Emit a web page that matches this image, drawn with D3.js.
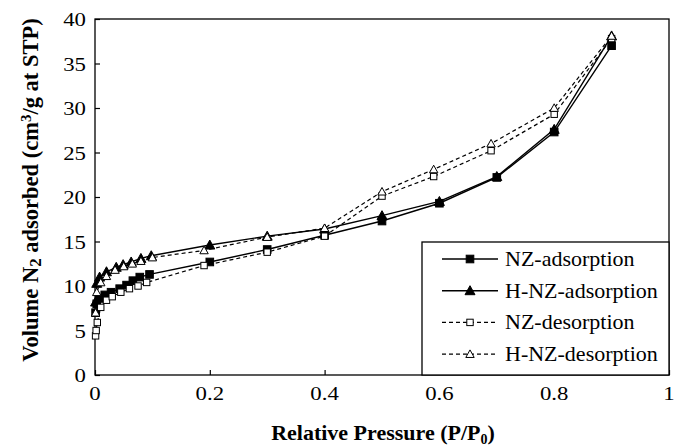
<!DOCTYPE html>
<html>
<head>
<meta charset="utf-8">
<script src="https://cdn.jsdelivr.net/npm/d3@7"></script>
<style>
  body { margin: 0; background: #fff; }
  text { font-family: "Liberation Serif", "Times New Roman", serif; fill: #000; }
</style>
</head>
<body>
<svg id="chart" width="677" height="447"></svg>
<script>
// Isotherm data (relative pressure, volume)
var nzAdsP = [0.001, 0.003, 0.008, 0.017, 0.028, 0.043, 0.055, 0.066, 0.078, 0.095, 0.2, 0.3, 0.4, 0.5, 0.6, 0.7, 0.8, 0.9];
var nzAdsV = [7.0, 8.0, 8.6, 9.0, 9.3, 9.7, 10.1, 10.6, 11.0, 11.3, 12.7, 14.1, 15.7, 17.3, 19.3, 22.2, 27.3, 37.0];

var hnzAdsP = [0.001, 0.003, 0.008, 0.02, 0.037, 0.049, 0.063, 0.08, 0.098, 0.2, 0.3, 0.4, 0.5, 0.6, 0.7, 0.8, 0.9];
var hnzAdsV = [8.2, 10.3, 11.0, 11.6, 12.1, 12.4, 12.7, 13.1, 13.4, 14.6, 15.6, 16.4, 17.9, 19.5, 22.3, 27.6, 38.1];

var nzDesP = [0.001, 0.002, 0.004, 0.01, 0.02, 0.03, 0.045, 0.06, 0.075, 0.09, 0.19, 0.3, 0.4, 0.5, 0.59, 0.69, 0.8, 0.9];
var nzDesV = [4.4, 5.0, 5.9, 7.6, 8.4, 8.8, 9.3, 9.7, 10.0, 10.4, 12.3, 13.8, 15.6, 20.1, 22.3, 25.2, 29.3, 37.8];

var hnzDesP = [0.001, 0.003, 0.01, 0.02, 0.035, 0.05, 0.065, 0.08, 0.1, 0.19, 0.3, 0.4, 0.5, 0.59, 0.69, 0.8, 0.9];
var hnzDesV = [7.0, 9.3, 10.4, 11.1, 11.8, 12.2, 12.5, 12.8, 13.2, 14.0, 15.5, 16.5, 20.6, 23.1, 26.0, 30.0, 38.1];

var xTicks = [0, 0.2, 0.4, 0.6, 0.8, 1];
var xTickLabels = ['0', '0.2', '0.4', '0.6', '0.8', '1'];
var yTicks = [0, 5, 10, 15, 20, 25, 30, 35, 40];

var seriesNames = ['NZ-adsorption', 'H-NZ-adsorption', 'NZ-desorption', 'H-NZ-desorption'];

var svg = d3.select('#chart');

var plot = {x: 95, y: 19, w: 574, h: 356};

var x = d3.scaleLinear().domain([0, 1]).range([plot.x, plot.x + plot.w]);
var y = d3.scaleLinear().domain([0, 40]).range([plot.y + plot.h, plot.y]);

// series table built from the arrays above
var series = [
    {name: seriesNames[0], p: nzAdsP, v: nzAdsV, dash: null, shape: 'square', filled: true},
    {name: seriesNames[1], p: hnzAdsP, v: hnzAdsV, dash: null, shape: 'triangle', filled: true},
    {name: seriesNames[2], p: nzDesP, v: nzDesV, dash: '4,3', shape: 'square', filled: false},
    {name: seriesNames[3], p: hnzDesP, v: hnzDesV, dash: '4,3', shape: 'triangle', filled: false}
];

// plot frame
svg.append('rect').
    attr('x', plot.x).attr('y', plot.y).attr('width', plot.w).attr('height', plot.h).
    style('fill', 'none').style('stroke', '#000').style('stroke-width', 1.3);

// axes, ticks pointing inward
var xAxis = d3.axisBottom(x).tickValues(xTicks).tickSizeInner(-5).tickSizeOuter(0).tickFormat('');
var yAxis = d3.axisLeft(y).tickValues(yTicks).tickSizeInner(-5).tickSizeOuter(0).tickFormat('');

var gx = svg.append('g').attr('transform', 'translate(0,' + (plot.y + plot.h) + ')').call(xAxis);
var gy = svg.append('g').attr('transform', 'translate(' + plot.x + ',0)').call(yAxis);
gx.select('.domain').remove();
gy.select('.domain').remove();
svg.selectAll('.tick line').style('stroke', '#000').style('stroke-width', 1.2);

// tick labels (the original font runs wide, so stretch a bit)
svg.append('g').selectAll('text').data(xTicks).enter().append('text').
    attr('transform', function(d) { return 'translate(' + x(d) + ',' + (plot.y + plot.h + 25) + ') scale(1.2,1)'; }).
    attr('text-anchor', 'middle').style('font-size', '19px').
    text(function(d, i) { return xTickLabels[i]; });

svg.append('g').selectAll('text').data(yTicks).enter().append('text').
    attr('transform', function(d) { return 'translate(' + (plot.x - 9) + ',' + (y(d) + 7) + ') scale(1.2,1)'; }).
    attr('text-anchor', 'end').style('font-size', '19px').
    text(function(d) { return d; });

// axis titles
var xt = svg.append('text').attr('x', 383).attr('y', 440).attr('text-anchor', 'middle').
    style('font-size', '22px').style('font-weight', 'bold');
xt.append('tspan').text('Relative Pressure (P/P');
xt.append('tspan').attr('baseline-shift', '-25%').style('font-size', '14px').text('0');
xt.append('tspan').text(')');

var yt = svg.append('text').attr('transform', 'translate(38,190) rotate(-90)').attr('text-anchor', 'middle').
    style('font-size', '22.5px').style('font-weight', 'bold');
yt.append('tspan').text('Volume N');
yt.append('tspan').attr('baseline-shift', '-20%').style('font-size', '17px').text('2');
yt.append('tspan').text(' adsorbed (cm');
yt.append('tspan').attr('baseline-shift', '45%').style('font-size', '15px').text('3');
yt.append('tspan').text('/g at STP)');

// markers
function drawMarker(g, s, cx, cy) {
    var fill = s.filled ? '#000' : '#fff';
    if (s.shape == 'square') {
        var h = s.filled ? 3.8 : 3.2;
        g.append('rect').attr('x', cx - h).attr('y', cy - h).attr('width', 2 * h).attr('height', 2 * h).
            style('fill', fill).style('stroke', '#000').style('stroke-width', 1);
    } else {
        var r = s.filled ? 5 : 4.2;
        g.append('path').
            attr('d', 'M' + cx + ',' + (cy - r) + 'L' + (cx + r) + ',' + (cy + r * 0.8) + 'L' + (cx - r) + ',' + (cy + r * 0.8) + 'Z').
            style('fill', fill).style('stroke', '#000').style('stroke-width', 1);
    }
}

var line = d3.line().x(function(d) { return x(d[0]); }).y(function(d) { return y(d[1]); });

series.forEach(function(s) {
    var pts = d3.zip(s.p, s.v);
    var g = svg.append('g').attr('class', 'series');
    g.append('path').datum(pts).attr('d', line).
        style('fill', 'none').style('stroke', '#000').
        style('stroke-width', s.dash ? 1.2 : 1.4).
        style('stroke-dasharray', s.dash);
    pts.forEach(function(d) { drawMarker(g, s, x(d[0]), y(d[1])); });
});

// legend box
var leg = {x: 422, y: 242, w: plot.x + plot.w - 422, h: plot.y + plot.h - 242};
svg.append('rect').attr('x', leg.x).attr('y', leg.y).attr('width', leg.w).attr('height', leg.h).
    style('fill', '#fff').style('stroke', '#000').style('stroke-width', 1.3);

series.forEach(function(s, i) {
    var ly = 259 + i * 31.7;
    var g = svg.append('g');
    g.append('line').attr('x1', 442).attr('x2', 498).attr('y1', ly).attr('y2', ly).
        style('stroke', '#000').style('stroke-width', s.dash ? 1.2 : 1.4).
        style('stroke-dasharray', s.dash);
    drawMarker(g, s, 470, ly);
    g.append('text').attr('x', 505).attr('y', ly + 7).style('font-size', '22px').text(s.name);
});
</script>
</body>
</html>
